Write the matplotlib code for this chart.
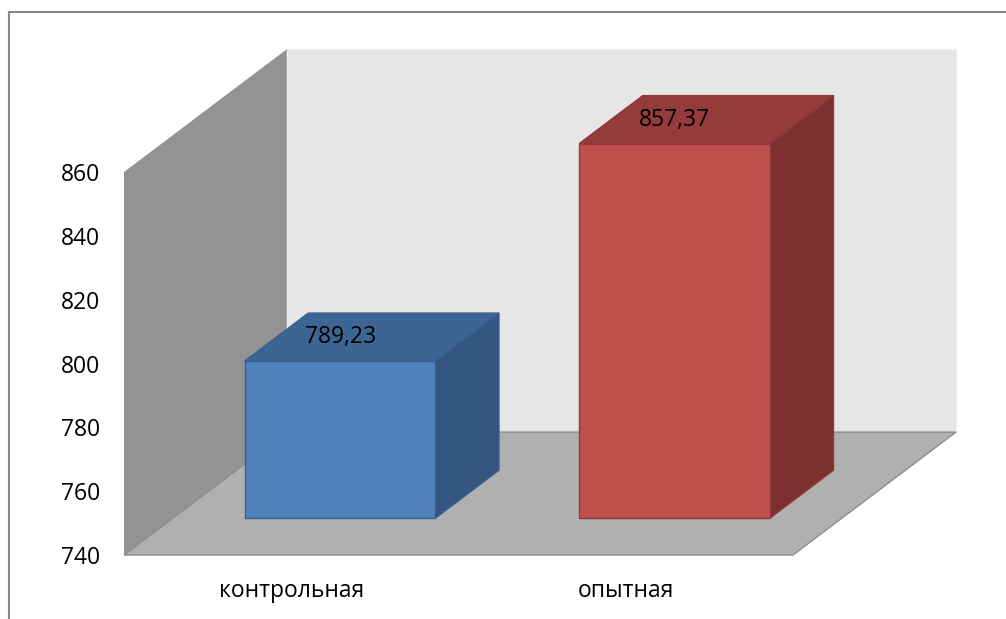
import matplotlib.pyplot as plt
from matplotlib.patches import Polygon
from matplotlib.lines import Line2D

plt.rcParams['font.family'] = ['Open Sans', 'DejaVu Sans']

# data
categories = ['контрольная', 'опытная']
values = [789.23, 857.37]
labels = ['789,23', '857,37']
yticks = [740, 760, 780, 800, 820, 840, 860]

front_colors = ['#4f81bd', '#c0504d']
top_colors = ['#3d6593', '#933c3a']
side_colors = ['#33557f', '#7b302f']
edge_colors = ['#3a5f8c', '#8e3a38']

fig = plt.figure(figsize=(10.06, 6.19), dpi=100)
ax = fig.add_axes([124 / 1006, 1 - 555 / 619, 669 / 1006, 383 / 619])

xmin, xmax = -0.5, 1.5
ymin, ymax = 740, 860
ax.set_xlim(xmin, xmax)
ax.set_ylim(ymin, ymax)

# depth of the "3d" box in data units
DX = 0.487
DY = 38.5

def poly(pts, fc, ec='none', lw=0, z=1):
    ax.add_patch(Polygon(pts, closed=True, facecolor=fc, edgecolor=ec,
                         linewidth=lw, zorder=z, clip_on=False))

# walls and floor
poly([(xmin, ymin), (xmin, ymax), (xmin + DX, ymax + DY), (xmin + DX, ymin + DY)], '#939393', z=1)
poly([(xmin + DX, ymin + DY), (xmin + DX, ymax + DY), (xmax + DX, ymax + DY), (xmax + DX, ymin + DY)],
     '#e6e6e6', ec='#eeeeee', lw=1, z=1)
poly([(xmin, ymin), (xmax, ymin), (xmax + DX, ymin + DY), (xmin + DX, ymin + DY)],
     '#b0b0b0', ec='#8c8c8c', lw=1, z=2)

# bars
w = 0.57
f0, f1 = 0.30, 0.69
for i, v in enumerate(values):
    x0 = i - w / 2
    x1 = i + w / 2
    a = (f0 * DX, f0 * DY)
    b = (f1 * DX, f1 * DY)
    base = ymin
    # side face
    poly([(x1 + a[0], base + a[1]), (x1 + a[0], v + a[1]), (x1 + b[0], v + b[1]), (x1 + b[0], base + b[1])],
         side_colors[i], ec=edge_colors[i], lw=1, z=3)
    # top face
    poly([(x0 + a[0], v + a[1]), (x1 + a[0], v + a[1]), (x1 + b[0], v + b[1]), (x0 + b[0], v + b[1])],
         top_colors[i], ec=edge_colors[i], lw=1, z=3)
    # front face
    poly([(x0 + a[0], base + a[1]), (x1 + a[0], base + a[1]), (x1 + a[0], v + a[1]), (x0 + a[0], v + a[1])],
         front_colors[i], ec=edge_colors[i], lw=1, z=4)
    ax.text(i + a[0], v + (f0 + f1) / 2 * DY, labels[i], ha='center', va='center',
            fontsize=16.5, color='black', zorder=5)

ax.set_yticks(yticks)
ax.set_yticklabels([str(t) for t in yticks], fontsize=16.5)
ax.set_xticks(range(len(categories)))
ax.set_xticklabels(categories, fontsize=16.5)
ax.tick_params(axis='y', length=0, pad=17)
ax.tick_params(axis='x', length=0, pad=17)
for s in ax.spines.values():
    s.set_visible(False)
ax.patch.set_visible(False)

# chart border (partly visible)
fig.add_artist(Line2D([9 / 1006, 9 / 1006], [0, 1 - 12 / 619], transform=fig.transFigure,
                      color='#888888', lw=1.5))
fig.add_artist(Line2D([9 / 1006, 1], [1 - 12 / 619, 1 - 12 / 619], transform=fig.transFigure,
                      color='#888888', lw=1.5))

fig.savefig('out.png', dpi=100)
